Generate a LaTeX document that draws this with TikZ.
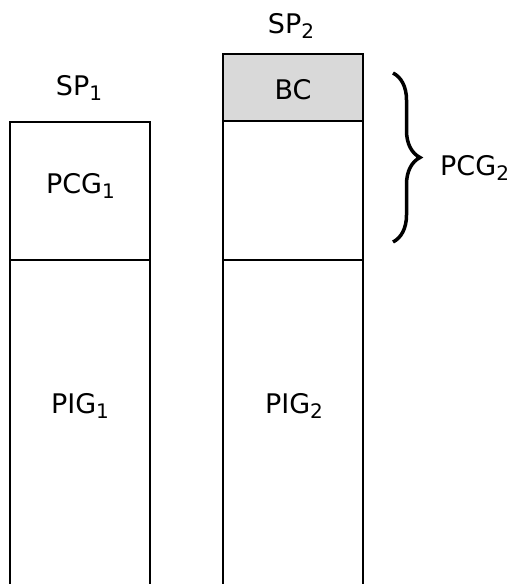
\documentclass[tikz,border=0pt]{standalone}
\usepackage{fontspec}
\setmainfont{DejaVu Sans}
\usetikzlibrary{decorations.pathreplacing}
\newcommand{\mysub}[1]{\raisebox{-5pt}{\fontsize{20}{20}\selectfont #1}}
\begin{document}
\begin{tikzpicture}[x=1pt,y=-1pt,
  col/.style={draw=black,line width=2.5pt},
  lbl/.style={font=\fontsize{27}{30}\selectfont,inner sep=0pt,anchor=base}]
\useasboundingbox (0,0) rectangle (510,584);
% left column
\draw[col] (10,590) -- (10,122) -- (150,122) -- (150,590);
\draw[col] (10,260) -- (150,260);
% right column
\fill[gray!30] (223,54) rectangle (363,121);
\draw[col] (223,590) -- (223,54) -- (363,54) -- (363,590);
\draw[col] (223,121) -- (363,121);
\draw[col] (223,260) -- (363,260);
% labels
\node[lbl] (sp1) at (79,95) {SP\mysub{1}};
\node[lbl] (sp2) at (291,33) {SP\mysub{2}};
\node[lbl] (bc) at (293,99) {BC};
\node[lbl] (pcg1) at (80.5,193) {PCG\mysub{1}};
\node[lbl] (pig1) at (80,413) {PIG\mysub{1}};
\node[lbl] (pig2) at (294,413) {PIG\mysub{2}};
\node[lbl,anchor=base west] (pcg2) at (440,175) {PCG\mysub{2}};
\coordinate (bt) at (393,73);
\coordinate (bb) at (393,242);
\draw[line width=3.5pt,decorate,decoration={brace,amplitude=27pt,aspect=0.5}] (bt) -- (bb);
\end{tikzpicture}
\end{document}
